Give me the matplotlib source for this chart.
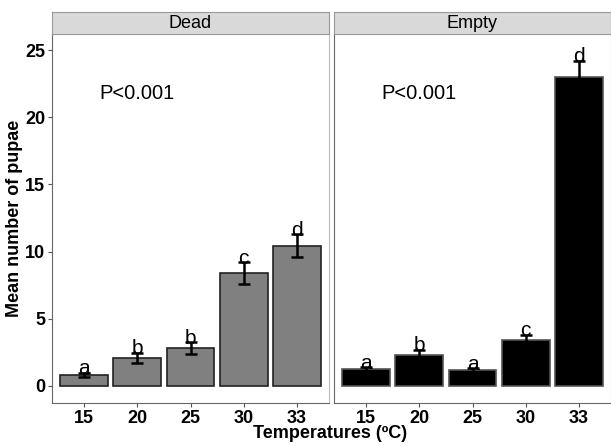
import numpy as np
import matplotlib.pyplot as plt

plt.rcParams['font.family'] = ['Liberation Sans', 'DejaVu Sans']

temps = ['15', '20', '25', '30', '33']
dead_mean = [0.82, 2.08, 2.8, 8.4, 10.45]
dead_se = [0.15, 0.4, 0.45, 0.8, 0.85]
dead_let = ['a', 'b', 'b', 'c', 'd']
empty_mean = [1.25, 2.3, 1.15, 3.45, 23.0]
empty_se = [0.15, 0.4, 0.15, 0.35, 1.2]
empty_let = ['a', 'b', 'a', 'c', 'd']
panels = ['Dead', 'Empty']

W, H = 611, 446
fig = plt.figure(figsize=(W / 100, H / 100), dpi=100)

lefts = [52, 334]
pw = 277
top, bot = 34, 403
data = [(dead_mean, dead_se, dead_let, '#808080'), (empty_mean, empty_se, empty_let, 'black')]

x = np.arange(1, 6)
for i, (m, se, let, col) in enumerate(data):
    ax = fig.add_axes([lefts[i] / W, 1 - bot / H, pw / W, (bot - top) / H])
    ax.bar(x, m, width=0.9, color=col, edgecolor='#222222' if i == 0 else '#555555', linewidth=1.2, zorder=2)
    ax.errorbar(x, m, yerr=se, fmt='none', ecolor='black', elinewidth=1.8, capsize=4.5, capthick=1.8, zorder=3)
    for xi, mi, si, l in zip(x, m, se, let):
        ax.text(xi, mi + si - 0.4, l, ha='center', va='bottom', fontsize=15, zorder=4)
    ax.text(2, 21.8, 'P<0.001', ha='center', va='center', fontsize=14.5)
    ax.set_xlim(0.4, 5.6)
    ax.set_ylim(-1.27, 26.2)
    ax.set_xticks(x)
    ax.set_xticklabels(temps, fontsize=13, fontweight='bold')
    ax.set_yticks([0, 5, 10, 15, 20, 25])
    if i == 0:
        ax.set_yticklabels(['0', '5', '10', '15', '20', '25'], fontsize=13, fontweight='bold')
    else:
        ax.tick_params(axis='y', left=False, labelleft=False)
    ax.tick_params(length=3, color='#555555', pad=2)
    for s in ['top', 'right']:
        ax.spines[s].set_color('#bbbbbb')
    for s in ['left', 'bottom']:
        ax.spines[s].set_color('#666666')
    # facet strip
    sax = fig.add_axes([lefts[i] / W, 1 - top / H, pw / W, 22 / H])
    sax.set_facecolor('#d9d9d9')
    sax.set_xticks([])
    sax.set_yticks([])
    for s in sax.spines.values():
        s.set_color('#999999')
    sax.text(0.5, 0.5, panels[i], ha='center', va='center', fontsize=13, transform=sax.transAxes)

fig.text(330 / W, 1 - 434 / H, 'Temperatures (ºC)', ha='center', va='center', fontsize=13, fontweight='bold')
fig.text(15 / W, 1 - 218 / H, 'Mean number of pupae', ha='center', va='center', rotation=90, fontsize=13, fontweight='bold')

fig.savefig('out.png', dpi=100)
